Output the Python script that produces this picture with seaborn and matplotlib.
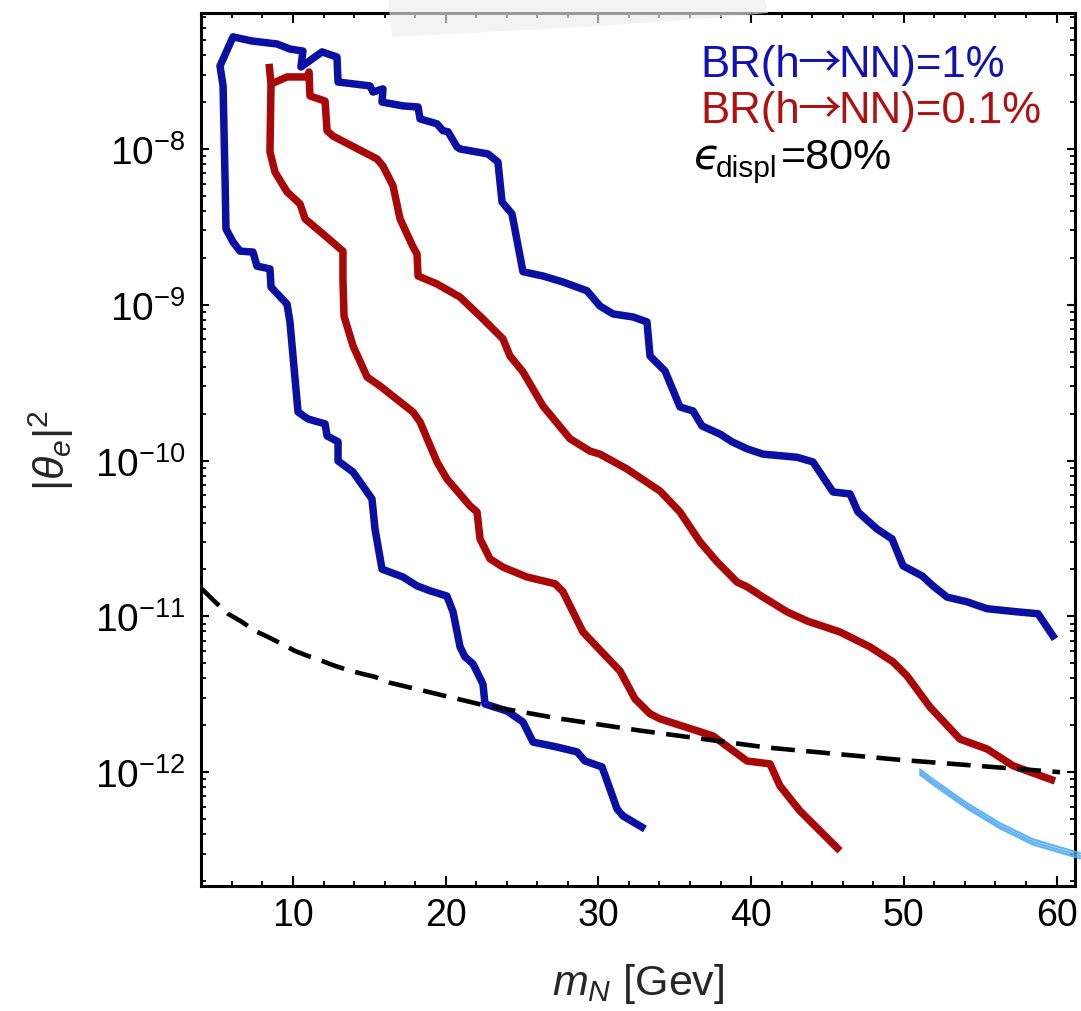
import numpy as np
import pandas as pd
import matplotlib
matplotlib.use("Agg")
import matplotlib.pyplot as plt
import seaborn as sns
from matplotlib.patches import Polygon
from matplotlib.ticker import LogLocator, MultipleLocator, NullFormatter, LogFormatterSciNotation, FixedLocator

# ---------------- data ----------------
# BR(h->NN)=1% contour: from the low-mass end (bottom) up the left side, across the top, down the right
blue_m = [33.05, 31.61, 31.22, 30.24, 29.12, 28.60, 27.29, 25.72, 25.06, 24.01, 22.57, 22.44,
          21.79, 21.26, 20.94, 20.48, 20.08, 18.97, 18.12, 17.20, 15.83, 15.37, 15.17, 13.93,
          12.95, 12.95, 12.23, 12.10, 10.98, 10.33, 10.00, 9.80, 9.61, 8.56, 8.49, 7.64, 7.38,
          6.53, 6.07, 5.61, 5.55, 5.42, 5.22, 6.07, 7.32, 8.95, 9.80, 10.65, 10.52, 11.90,
          12.88, 12.95, 15.04, 15.24, 15.89, 15.83, 17.20, 18.19, 18.32, 19.43, 19.82, 20.15,
          20.74, 20.94, 22.77, 23.42, 23.69, 24.34, 25.06, 26.37, 27.68, 29.25, 30.10, 30.96,
          32.27, 33.18, 33.38, 34.36, 35.34, 36.20, 36.78, 37.96, 38.75, 39.73, 40.78, 43.01,
          44.05, 45.36, 46.48, 47.00, 48.24, 49.23, 49.95, 51.19, 51.91, 52.83, 54.14, 55.45,
          57.41, 58.79, 59.90]
blue_theta = [4.32e-13, 5.24e-13, 5.81e-13, 1.08e-12, 1.18e-12, 1.35e-12, 1.45e-12, 1.56e-12,
              2.10e-12, 2.47e-12, 2.74e-12, 3.68e-12, 4.95e-12, 5.50e-12, 6.37e-12, 1.07e-11,
              1.35e-11, 1.46e-11, 1.57e-11, 1.79e-11, 2.01e-11, 3.64e-11, 5.68e-11, 8.45e-11,
              9.95e-11, 1.32e-10, 1.44e-10, 1.72e-10, 1.85e-10, 2.05e-10, 4.69e-10, 7.76e-10,
              1.01e-9, 1.30e-9, 1.70e-9, 1.77e-9, 2.18e-9, 2.21e-9, 2.53e-9, 3.07e-9, 6.41e-9,
              2.54e-8, 3.41e-8, 5.24e-8, 4.93e-8, 4.72e-8, 4.38e-8, 4.25e-8, 3.36e-8, 4.20e-8,
              3.89e-8, 2.69e-8, 2.54e-8, 2.32e-8, 2.43e-8, 2.00e-8, 1.89e-8, 1.86e-8, 1.56e-8,
              1.45e-8, 1.31e-8, 1.29e-8, 1.03e-8, 1.00e-8, 9.29e-9, 8.25e-9, 4.57e-9, 3.83e-9,
              1.63e-9, 1.53e-9, 1.40e-9, 1.23e-9, 9.82e-10, 8.73e-10, 8.35e-10, 7.76e-10,
              4.69e-10, 3.76e-10, 2.21e-10, 2.08e-10, 1.67e-10, 1.48e-10, 1.32e-10, 1.19e-10,
              1.10e-10, 1.05e-10, 9.80e-11, 6.29e-11, 6.11e-11, 4.68e-11, 3.64e-11, 3.14e-11,
              2.11e-11, 1.82e-11, 1.57e-11, 1.33e-11, 1.24e-11, 1.12e-11, 1.07e-11, 1.04e-11,
              7.16e-12]

# BR(h->NN)=0.1% contour, left (low-mass) branch, top to bottom
red_left_m = [8.43, 8.56, 8.49, 8.82, 9.61, 10.46, 10.79, 11.96, 13.27, 13.27, 13.34, 13.93,
              14.85, 15.70, 16.35, 17.86, 18.32, 19.43, 20.08, 21.59, 22.05, 22.25, 22.90,
              23.75, 25.32, 27.16, 27.68, 28.99, 29.91, 31.41, 32.40, 33.38, 34.03, 37.50,
              39.73, 41.24, 41.89, 43.20, 45.82]
red_left_theta = [3.52e-8, 2.61e-8, 9.57e-9, 7.11e-9, 5.30e-9, 4.44e-9, 3.56e-9, 2.85e-9,
                  2.21e-9, 1.47e-9, 8.47e-10, 5.45e-10, 3.44e-10, 3.01e-10, 2.68e-10, 2.05e-10,
                  1.77e-10, 9.80e-11, 7.62e-11, 5.12e-11, 4.68e-11, 3.14e-11, 2.34e-11,
                  2.07e-11, 1.79e-11, 1.62e-11, 1.44e-11, 7.94e-12, 6.37e-12, 4.47e-12,
                  2.95e-12, 2.37e-12, 2.20e-12, 1.71e-12, 1.18e-12, 1.13e-12, 8.16e-13,
                  5.64e-13, 3.13e-13]

# BR(h->NN)=0.1% contour, right (long-lifetime) branch
red_right_m = [8.56, 9.61, 10.92, 11.05, 11.11, 12.10, 12.23, 12.62, 15.50, 15.89, 16.55,
               17.01, 17.86, 18.12, 18.19, 19.43, 20.94, 22.44, 23.75, 24.21, 25.06, 26.37,
               28.14, 29.45, 30.10, 31.87, 34.03, 35.34, 36.65, 37.77, 39.08, 39.73, 40.78,
               42.35, 43.66, 45.82, 47.78, 49.29, 50.21, 51.71, 53.68, 55.45, 57.15, 58.07,
               59.90]
red_right_theta = [2.61e-8, 2.90e-8, 2.90e-8, 3.12e-8, 2.19e-8, 2.03e-8, 1.31e-8, 1.21e-8,
                   8.63e-9, 7.78e-9, 5.80e-9, 3.56e-9, 2.35e-9, 2.12e-9, 1.53e-9, 1.36e-9,
                   1.12e-9, 8.11e-10, 6.04e-10, 4.69e-10, 3.71e-10, 2.24e-10, 1.38e-10,
                   1.15e-10, 1.10e-10, 8.83e-11, 6.38e-11, 4.68e-11, 3.01e-11, 2.24e-11,
                   1.66e-11, 1.55e-11, 1.33e-11, 1.07e-11, 9.35e-12, 7.94e-12, 6.37e-12,
                   5.11e-12, 4.15e-12, 2.62e-12, 1.63e-12, 1.41e-12, 1.10e-12, 1.02e-12,
                   8.79e-13]

# dashed black boundary
bound_m = [4.04, 4.89, 5.74, 6.66, 7.51, 8.36, 9.28, 10.13, 10.98, 11.90, 12.75, 13.60, 14.52,
           15.37, 16.35, 22.44, 27.29, 32.72, 41.04, 49.75, 60.23]
bound_theta = [1.50e-11, 1.24e-11, 1.04e-11, 9.21e-12, 8.07e-12, 7.38e-12, 6.65e-12, 6.00e-12,
               5.57e-12, 5.18e-12, 4.81e-12, 4.53e-12, 4.28e-12, 4.09e-12, 3.75e-12, 2.70e-12,
               2.22e-12, 1.85e-12, 1.44e-12, 1.20e-12, 1.00e-12]

# light-blue pen stroke in the lower right corner
stroke_m = [51.06, 51.91, 54.14, 56.30, 58.46, 61.54]
stroke_theta = [1.00e-12, 8.65e-13, 6.07e-13, 4.52e-13, 3.56e-13, 2.90e-13]

x_ticks = [10, 20, 30, 40, 50, 60]
y_ticks = [1e-12, 1e-11, 1e-10, 1e-9, 1e-8]

# ---------------- style ----------------
sns.set_theme(style="ticks")
plt.rcParams["font.family"] = ["Liberation Sans", "DejaVu Sans"]
plt.rcParams["mathtext.fontset"] = "custom"
plt.rcParams["mathtext.rm"] = "Liberation Sans"
plt.rcParams["mathtext.it"] = "Liberation Sans:italic"
plt.rcParams["mathtext.bf"] = "Liberation Sans:bold"
plt.rcParams["axes.unicode_minus"] = True

BLUE = "#0a10a2"
RED = "#a80808"

fig = plt.figure(figsize=(10.81, 10.12), dpi=100)
ax = fig.add_axes([201 / 1081, 125 / 1012, 874 / 1081, 873 / 1012])

df_blue = pd.DataFrame({"m": blue_m, "theta": blue_theta, "seg": 0})
df_red = pd.concat([
    pd.DataFrame({"m": red_left_m, "theta": red_left_theta, "seg": 0}),
    pd.DataFrame({"m": red_right_m, "theta": red_right_theta, "seg": 1}),
], ignore_index=True)
df_bound = pd.DataFrame({"m": bound_m, "theta": bound_theta})

sns.lineplot(data=df_blue, x="m", y="theta", units="seg", estimator=None, sort=False,
             color=BLUE, lw=5.4, ax=ax, solid_joinstyle="round", solid_capstyle="butt")
sns.lineplot(data=df_red, x="m", y="theta", units="seg", estimator=None, sort=False,
             color=RED, lw=5.4, ax=ax, solid_joinstyle="round", solid_capstyle="butt")
sns.lineplot(data=df_bound, x="m", y="theta", estimator=None, sort=False,
             color="black", lw=3.3, ax=ax, linestyle=(0, (5.2, 2.5)))

ax.set_yscale("log")
ax.set_xlim(3.975, 61.21)
ax.set_ylim(1.86e-13, 7.46e-8)

# light blue pen stroke (extends past the frame)
for f in [1.0, 1.04, 0.965]:
    ax.plot(stroke_m, [t * f for t in stroke_theta], color="#52aaf0", lw=1.6,
            clip_on=False, zorder=5, alpha=0.9)

# ticks
ax.xaxis.set_major_locator(FixedLocator(x_ticks))
ax.xaxis.set_minor_locator(MultipleLocator(2))
ax.yaxis.set_major_locator(FixedLocator(y_ticks))
ax.yaxis.set_minor_locator(LogLocator(base=10, subs=np.arange(2, 10), numticks=20))
ax.yaxis.set_minor_formatter(NullFormatter())
ax.yaxis.set_major_formatter(LogFormatterSciNotation())

ax.tick_params(which="both", direction="in", top=True, right=True, colors="black")
ax.tick_params(axis="x", which="major", length=7, width=1.5, labelsize=27, pad=8)
ax.tick_params(axis="x", which="minor", length=3.5, width=1.3)
ax.tick_params(axis="y", which="major", length=6, width=1.5, labelsize=28, pad=11)
ax.tick_params(axis="y", which="minor", length=3.8, width=1.3)
for s in ax.spines.values():
    s.set_linewidth(2.2)
    s.set_color("black")

ax.set_xlabel(r"$m_N$ [Gev]", fontsize=31, labelpad=20)
ax.set_ylabel(r"$|\theta_e|^2$", fontsize=31, labelpad=14)

# annotations: each line built from pieces so the arrow can come from a bolder font
def y_ax(py):
    return (887 - py) / 873


def x_ax(px):
    return (px - 201) / 874


for txt_tail, base_py, col in [("NN)=1%", 77, "#1212b2"), ("NN)=0.1%", 123, "#b01010")]:
    ax.text(x_ax(700), y_ax(base_py), "BR(h", transform=ax.transAxes, color=col,
            fontsize=31.5, ha="left", va="baseline")
    ax.text(x_ax(797), y_ax(base_py), "→", transform=ax.transAxes, color=col,
            fontsize=31.5, ha="left", va="baseline", family=["Noto Sans CJK SC", "DejaVu Sans"])
    ax.text(x_ax(838), y_ax(base_py), txt_tail, transform=ax.transAxes, color=col,
            fontsize=31.5, ha="left", va="baseline")

ax.text(x_ax(694), y_ax(169), "ϵ", transform=ax.transAxes, color="black",
        fontsize=31, ha="left", va="baseline", family=["DejaVu Sans"], style="italic")
ax.text(x_ax(716), y_ax(177), "displ", transform=ax.transAxes, color="black",
        fontsize=21.5, ha="left", va="baseline")
ax.text(x_ax(781), y_ax(169), "=80%", transform=ax.transAxes, color="black",
        fontsize=31, ha="left", va="baseline")

# grey smudge over the top frame
smudge = Polygon([(388 / 1081, 1.0), (765 / 1081, 1.0), (768 / 1081, 1 - 14 / 1012),
                  (700 / 1081, 1 - 20 / 1012), (600 / 1081, 1 - 27 / 1012),
                  (392 / 1081, 1 - 38 / 1012)],
                 closed=True, transform=fig.transFigure, facecolor="#eeeeee",
                 edgecolor="none", alpha=0.65, zorder=20)
fig.patches.append(smudge)

fig.savefig("out.png", dpi=100)
